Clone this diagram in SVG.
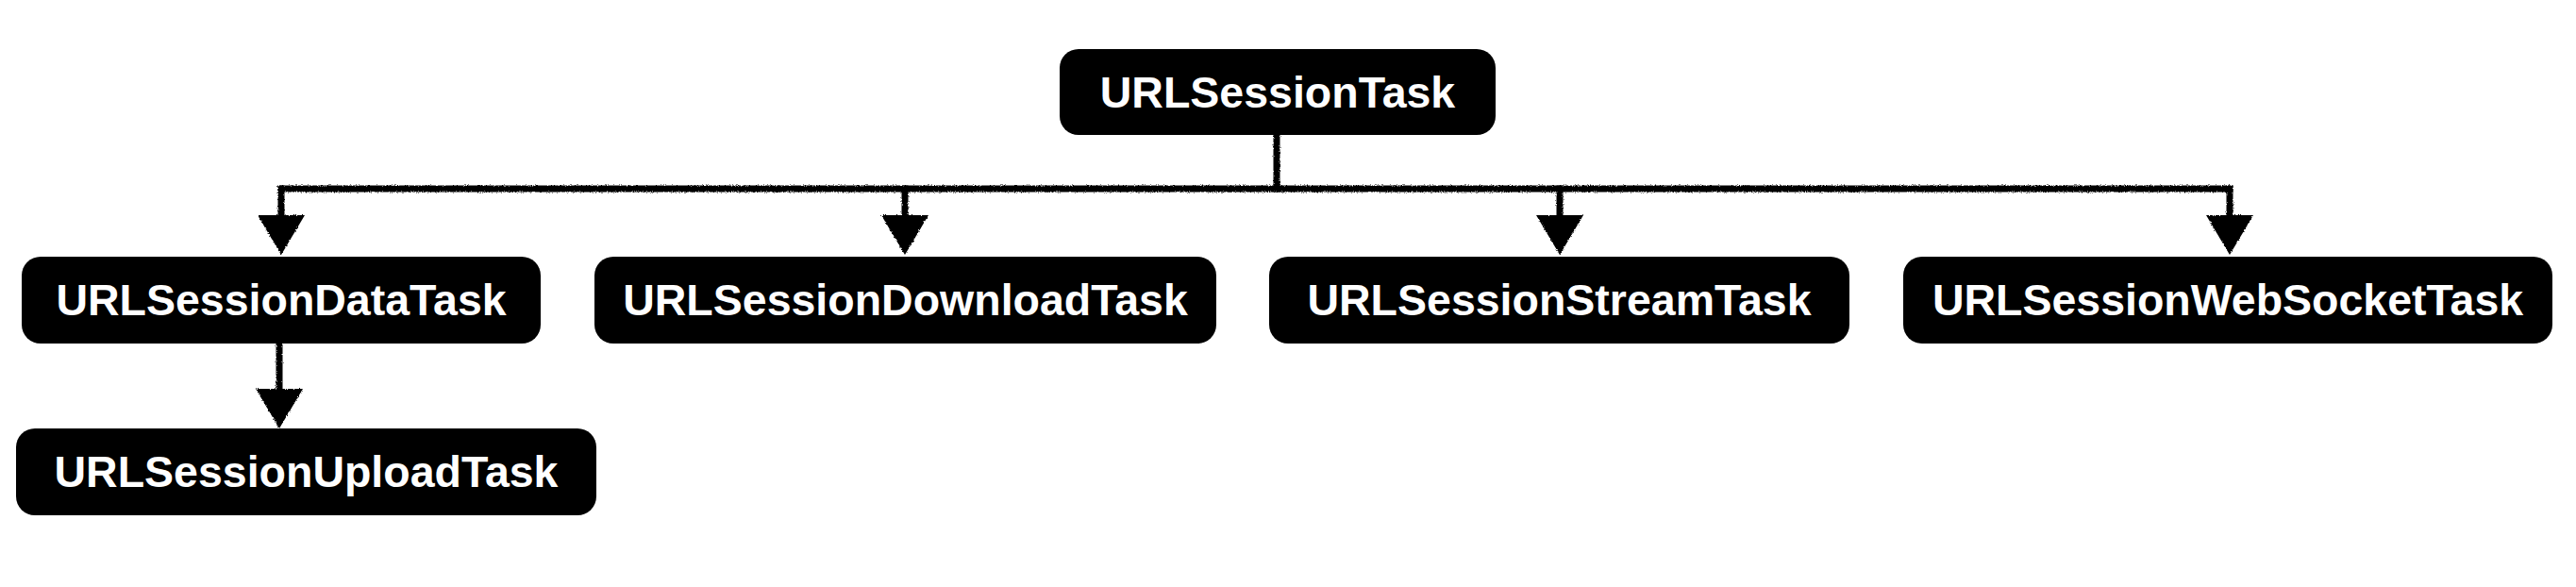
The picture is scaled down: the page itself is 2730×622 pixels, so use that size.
<svg xmlns="http://www.w3.org/2000/svg" width="2730" height="622" viewBox="0 0 2730 622">
  <style>
    .box { fill: #000000; }
    .label { fill: #ffffff; font-family: "Liberation Sans", Arial, Helvetica, sans-serif; font-size: 46.5px; font-weight: bold; text-anchor: middle; }
    .conn { fill: none; stroke: #000000; stroke-width: 7; stroke-linecap: square; }
  </style>
  <defs>
    <filter id="rough" filterUnits="userSpaceOnUse" x="0" y="0" width="2730" height="622">
      <feTurbulence type="fractalNoise" baseFrequency="0.9" numOctaves="2" seed="3" result="noise"/>
      <feDisplacementMap in="SourceGraphic" in2="noise" scale="3" xChannelSelector="R" yChannelSelector="G"/>
    </filter>
    <marker id="arrow" viewBox="0 0 42 50" refX="0" refY="25" markerWidth="42" markerHeight="50" markerUnits="userSpaceOnUse" orient="auto">
      <path d="M0,0 L42,25 L0,50 Z" fill="#000000"/>
    </marker>
  </defs>

  <g id="connectors" filter="url(#rough)">
    <path class="conn" d="M1353,143 V200"/>
    <path class="conn" d="M298,200 H2363"/>
    <path class="conn" d="M298,200 V228" marker-end="url(#arrow)"/>
    <path class="conn" d="M959,200 V228" marker-end="url(#arrow)"/>
    <path class="conn" d="M1653,200 V228" marker-end="url(#arrow)"/>
    <path class="conn" d="M2363,200 V228" marker-end="url(#arrow)"/>
    <path class="conn" d="M296,364 V412" marker-end="url(#arrow)"/>
  </g>

  <g id="node-urlsessiontask">
    <rect class="box" x="1123" y="52" width="462" height="91" rx="20" ry="20"/>
    <text class="label" x="1354" y="114">URLSessionTask</text>
  </g>
  <g id="node-datatask">
    <rect class="box" x="23" y="272" width="550" height="92" rx="20" ry="20"/>
    <text class="label" x="298" y="334">URLSessionDataTask</text>
  </g>
  <g id="node-downloadtask">
    <rect class="box" x="630" y="272" width="659" height="92" rx="20" ry="20"/>
    <text class="label" x="959.5" y="334">URLSessionDownloadTask</text>
  </g>
  <g id="node-streamtask">
    <rect class="box" x="1345" y="272" width="615" height="92" rx="20" ry="20"/>
    <text class="label" x="1652.5" y="334">URLSessionStreamTask</text>
  </g>
  <g id="node-websockettask">
    <rect class="box" x="2017" y="272" width="688" height="92" rx="20" ry="20"/>
    <text class="label" x="2361" y="334">URLSessionWebSocketTask</text>
  </g>
  <g id="node-uploadtask">
    <rect class="box" x="17" y="454" width="615" height="92" rx="20" ry="20"/>
    <text class="label" x="324.5" y="516">URLSessionUploadTask</text>
  </g>
</svg>
